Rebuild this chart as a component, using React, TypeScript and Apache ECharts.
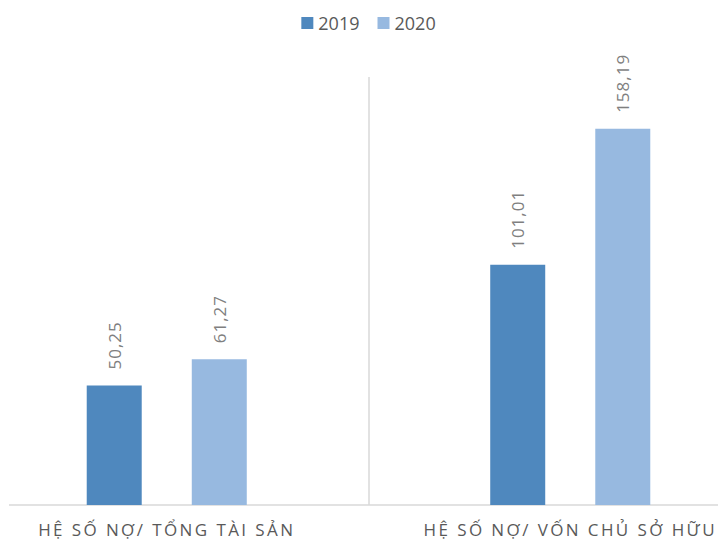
import React, { useEffect, useRef } from "react";
import * as echarts from "echarts";

const categories = ["HỆ SỐ NỢ/ TỔNG TÀI SẢN", "HỆ SỐ NỢ/ VỐN CHỦ SỞ HỮU"];
const series2019 = [50.25, 101.01];
const series2020 = [61.27, 158.19];
const seriesNames = ["2019", "2020"];

const fmt = (v: number) => v.toFixed(2).replace(".", ",");

export default function App() {
  const ref = useRef<HTMLDivElement>(null);
  useEffect(() => {
    const chart = echarts.init(ref.current!, null, { renderer: "svg" });
    const label = {
      show: true,
      position: "top",
      rotate: 90,
      distance: 16,
      align: "left",
      verticalAlign: "middle",
      color: "#7f7f7f",
      fontFamily: "Open Sans",
      fontSize: 17,
      formatter: (p: any) => fmt(p.value),
    };
    chart.setOption({
      animation: false,
      textStyle: { fontFamily: "Open Sans" },
      legend: {
        top: 9,
        left: "center",
        itemWidth: 12,
        itemHeight: 12,
        itemGap: 18,
        icon: "rect",
        textStyle: { color: "#595959", fontSize: 18, fontFamily: "Open Sans" },
        data: seriesNames,
      },
      grid: { left: 0, right: 0, top: 77, bottom: 40, containLabel: false },
      xAxis: {
        type: "category",
        data: categories,
        axisLine: { show: true, lineStyle: { color: "#d9d9d9", width: 1.5 } },
        axisTick: { show: false },
        splitLine: { show: true, lineStyle: { color: "#d9d9d9", width: 1.5 } },
        axisLabel: {
          color: "#595959",
          fontSize: 17,
          fontFamily: "Open Sans",
          margin: 16,
        },
      },
      yAxis: {
        type: "value",
        min: 0,
        max: 180,
        show: false,
        splitLine: { show: false },
      },
      graphic: [
        {
          type: "rect",
          left: 35,
          top: 502,
          shape: { width: 9, height: 6 },
          style: { fill: "#ffffff" },
          z: 100,
        },
      ],
      series: [
        {
          name: seriesNames[0],
          type: "bar",
          data: series2019,
          barWidth: 55,
          barGap: "91%",
          itemStyle: { color: "#4F88BE" },
          label,
        },
        {
          name: seriesNames[1],
          type: "bar",
          data: series2020,
          barWidth: 55,
          itemStyle: { color: "#97B9E0" },
          label,
        },
      ],
    });
    const valueTexts = [...series2019, ...series2020].map(fmt);
    const spaceLabels = () => {
      ref.current?.querySelectorAll("text").forEach((t) => {
        const s = (t.textContent || "").trim();
        if (categories.includes(s)) {
          t.setAttribute("letter-spacing", "2.4");
        } else if (valueTexts.includes(s)) {
          t.setAttribute("letter-spacing", "1");
        }
      });
    };
    spaceLabels();
    chart.on("finished", spaceLabels);
    return () => chart.dispose();
  }, []);
  return (
    <div style={{ width: 718, height: 545, position: "absolute", left: 0, top: 0, overflow: "hidden", background: "#fff" }}>
      <div ref={ref} style={{ width: 807, height: 545, position: "absolute", left: -35, top: 0 }} />
    </div>
  );
}
